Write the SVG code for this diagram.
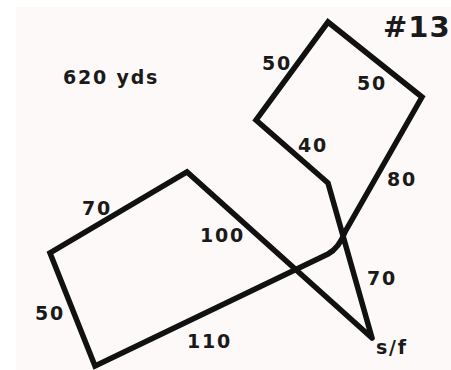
<svg xmlns="http://www.w3.org/2000/svg" width="451" height="370" viewBox="0 0 451 370">
  <style>
    .lbl { font-family: "DejaVu Sans", Verdana, sans-serif; font-weight: bold; font-size: 19px; letter-spacing: 1.8px; fill: #1a1a1a; }
    .course { fill: none; stroke: #111; stroke-width: 5.5; stroke-linejoin: miter; stroke-linecap: round; }
  </style>
  <rect x="0" y="0" width="451" height="370" fill="#ffffff"/>
  <rect x="16" y="7" width="435" height="363" fill="#fdf9f9"/>
  <g id="connectors">
    <path class="course" d="M 372 338 L 328 183 L 256 120 L 328 22 L 422 97 L 345 232 Q 339 248 328 254 L 95 366 L 50 253 L 187 172 L 372 338"/>
  </g>
  <g id="title">
    <text class="lbl" x="383" y="37" style="font-size:29px;letter-spacing:1px">#13</text>
    <text class="lbl" x="63" y="84">620 yds</text>
  </g>
  <g id="labels">
    <text class="lbl" x="262" y="70">50</text>
    <text class="lbl" x="357" y="90">50</text>
    <text class="lbl" x="298" y="152">40</text>
    <text class="lbl" x="387" y="186">80</text>
    <text class="lbl" x="82" y="215">70</text>
    <text class="lbl" x="200" y="242">100</text>
    <text class="lbl" x="367" y="285">70</text>
    <text class="lbl" x="35" y="320">50</text>
    <text class="lbl" x="187" y="348">110</text>
    <text class="lbl" x="376" y="354">s/f</text>
  </g>
</svg>
